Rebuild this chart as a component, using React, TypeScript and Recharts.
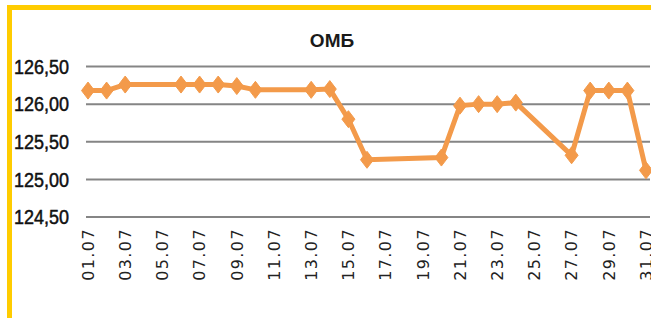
import React from 'react';
import { LineChart, Line, XAxis, YAxis, CartesianGrid } from 'recharts';

const days = [
  '01.07', '02.07', '03.07', '04.07', '05.07', '06.07', '07.07', '08.07', '09.07', '10.07',
  '11.07', '12.07', '13.07', '14.07', '15.07', '16.07', '17.07', '18.07', '19.07', '20.07',
  '21.07', '22.07', '23.07', '24.07', '25.07', '26.07', '27.07', '28.07', '29.07', '30.07', '31.07',
];

const rates: (number | null)[] = [
  126.18, 126.18, 126.26, null, null, 126.26, 126.26, 126.26, 126.24, 126.19,
  null, null, 126.19, 126.2, 125.8, 125.26, null, null, null, 125.29,
  125.98, 126.0, 126.0, 126.02, null, null, 125.32, 126.18, 126.18, 126.18, 125.12,
];

const yTicks = [124.5, 125, 125.5, 126, 126.5];
const title = 'ОМБ';

const data = days.map((d, i) => ({ day: d, value: rates[i] }));

const ORANGE = '#F39A4A';

const Diamond = (props: any) => {
  const { cx, cy, index } = props;
  if (cx == null || cy == null || props.value == null) return <g key={`d${index}`} />;
  const w = 6.5;
  const h = 8.5;
  return (
    <polygon
      key={`d${index}`}
      points={`${cx},${cy - h} ${cx + w},${cy} ${cx},${cy + h} ${cx - w},${cy}`}
      fill={ORANGE}
      stroke={ORANGE}
      strokeWidth={1}
    />
  );
};

const XTick = (props: any) => {
  const { x, y, payload } = props;
  return (
    <text
      x={x}
      y={y}
      transform={`rotate(-90, ${x}, ${y})`}
      textAnchor="end"
      dy="0.36em"
      fontFamily="DejaVu Sans"
      fontSize={16}
      letterSpacing={1.4}
      fill="#222"
    >
      {payload.value}
    </text>
  );
};

const YTick = (props: any) => {
  const { x, y, payload } = props;
  const label = Number(payload.value).toFixed(2).replace('.', ',');
  return (
    <text
      x={x}
      y={y}
      textAnchor="end"
      dy="0.36em"
      fontFamily="Liberation Sans"
      fontSize={20}
      textLength={55}
      lengthAdjust="spacingAndGlyphs"
      fill="#111"
      stroke="#111"
      strokeWidth={0.5}
    >
      {label}
    </text>
  );
};

export default function App() {
  return (
    <div style={{ position: 'absolute', left: 0, top: 0, width: 651, height: 318, background: '#fff', overflow: 'hidden' }}>
      <div
        style={{
          position: 'absolute',
          left: 7,
          top: 5,
          width: 700,
          height: 400,
          borderTop: '5px solid #FFCC00',
          borderLeft: '5px solid #FFCC00',
        }}
      />
      <div
        style={{
          position: 'absolute',
          left: 232,
          width: 200,
          top: 30.5,
          textAlign: 'center',
          fontFamily: 'Liberation Sans',
          fontWeight: 'bold',
          fontSize: 19,
          lineHeight: '19px',
          color: '#1a1a1a',
        }}
      >
        {title}
      </div>
      <div style={{ position: 'absolute', left: 0, top: 0 }}>
        <LineChart width={651} height={318} data={data} margin={{ top: 66.5, right: 1, bottom: 0, left: 0 }}>
          <CartesianGrid horizontal vertical={false} stroke="#858585" strokeWidth={2} />
          <XAxis
            dataKey="day"
            type="category"
            interval={1}
            height={101}
            axisLine={false}
            tickLine={false}
            tickSize={0}
            tickMargin={11}
            padding={{ left: 2, right: 4 }}
            tick={<XTick />}
          />
          <YAxis
            domain={[124.5, 126.5]}
            ticks={yTicks}
            width={86}
            axisLine={false}
            tickLine={false}
            tickSize={0}
            tickMargin={17}
            tick={<YTick />}
            allowDataOverflow
          />
          <Line
            type="linear"
            dataKey="value"
            stroke={ORANGE}
            strokeWidth={5}
            connectNulls
            dot={Diamond}
            activeDot={false}
            isAnimationActive={false}
          />
        </LineChart>
      </div>
    </div>
  );
}
